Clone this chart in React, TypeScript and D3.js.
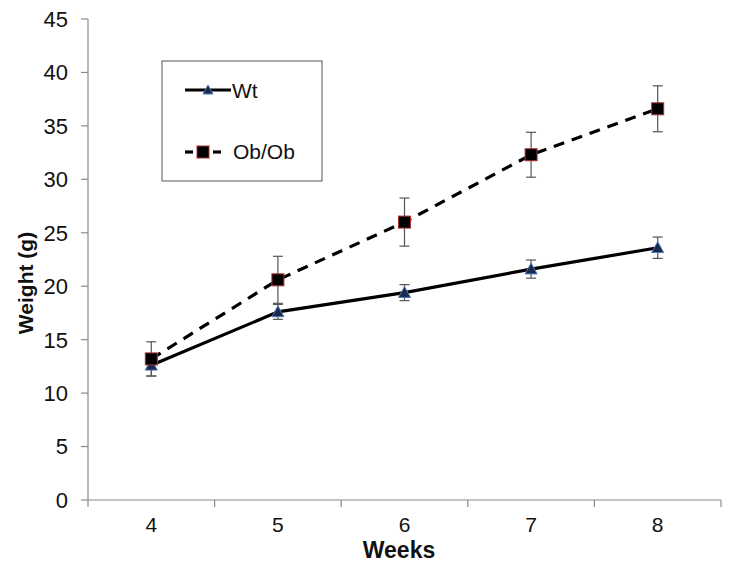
import React from "react";
import * as d3 from "d3";

const weeks = ["4", "5", "6", "7", "8"];
const wtMean = [12.6, 17.6, 19.4, 21.6, 23.6];
const wtErr = [1.0, 0.7, 0.75, 0.85, 1.0];
const obMean = [13.2, 20.6, 26.0, 32.3, 36.6];
const obErr = [1.6, 2.2, 2.25, 2.1, 2.15];
const yTicks = [0, 5, 10, 15, 20, 25, 30, 35, 40, 45];

export default function App() {
  const W = 732, H = 570;
  const left = 88, right = 721, top = 19, bottom = 500;
  const x = d3.scaleBand<string>().domain(weeks).range([left, right]);
  const y = d3.scaleLinear().domain([0, 45]).range([bottom, top]);
  const cx = (w: string) => (x(w) as number) + x.bandwidth() / 2;
  const line = d3.line<number>().x((_, i) => cx(weeks[i])).y((v) => y(v));
  const font = "'Liberation Sans', Arial, sans-serif";
  const axisColor = "#8c8c8c";
  const tri = (px: number, py: number, s = 6) =>
    `M${px},${py - s} L${px + s},${py + s * 0.8} L${px - s},${py + s * 0.8} Z`;

  return (
    <svg width={W} height={H} style={{ position: "absolute", left: 0, top: 0 }} fontFamily={font}>
      <rect width={W} height={H} fill="#fff" />
      {/* axes */}
      <line x1={left} x2={left} y1={top} y2={bottom} stroke={axisColor} strokeWidth={1.2} />
      <line x1={left} x2={right} y1={bottom} y2={bottom} stroke={axisColor} strokeWidth={1.2} />
      {yTicks.map((t) => (
        <g key={t}>
          <line x1={left - 7} x2={left} y1={y(t)} y2={y(t)} stroke={axisColor} strokeWidth={1.2} />
          <text x={68} y={y(t)} dy="0.36em" textAnchor="end" fontSize={22} fill="#111">{t}</text>
        </g>
      ))}
      {[...weeks.map((w) => x(w) as number), right].map((p, i) => (
        <line key={i} x1={p} x2={p} y1={bottom} y2={bottom + 7} stroke={axisColor} strokeWidth={1.2} />
      ))}
      {weeks.map((w) => (
        <text key={w} x={cx(w)} y={532} textAnchor="middle" fontSize={21} fill="#111">{w}</text>
      ))}
      <text x={399} y={558} textAnchor="middle" fontSize={23} fontWeight="bold" fill="#111">Weeks</text>
      <text transform={`translate(33,${283}) rotate(-90)`} textAnchor="middle" fontSize={21} fontWeight="bold" fill="#111">Weight (g)</text>

      {/* error bars */}
      {[{ m: obMean, e: obErr }, { m: wtMean, e: wtErr }].map((s, si) =>
        s.m.map((v, i) => {
          const px = cx(weeks[i]);
          return (
            <g key={`${si}-${i}`} stroke="#555" strokeWidth={1.2}>
              <line x1={px} x2={px} y1={y(v + s.e[i])} y2={y(v - s.e[i])} />
              <line x1={px - 5} x2={px + 5} y1={y(v + s.e[i])} y2={y(v + s.e[i])} />
              <line x1={px - 5} x2={px + 5} y1={y(v - s.e[i])} y2={y(v - s.e[i])} />
            </g>
          );
        })
      )}

      {/* lines */}
      <path d={line(obMean) || ""} fill="none" stroke="#000" strokeWidth={3.2} strokeDasharray="11,8" />
      <path d={line(wtMean) || ""} fill="none" stroke="#000" strokeWidth={3.2} />

      {/* markers */}
      {wtMean.map((v, i) => (
        <path key={`w${i}`} d={tri(cx(weeks[i]), y(v))} fill="#1b2a4a" stroke="#4a78b8" strokeWidth={1} />
      ))}
      {obMean.map((v, i) => (
        <rect key={`o${i}`} x={cx(weeks[i]) - 6} y={y(v) - 6} width={12} height={12} fill="#000" stroke="#a83232" strokeWidth={1} />
      ))}

      {/* legend */}
      <rect x={162} y={61} width={160} height={120} fill="#fff" stroke="#555" strokeWidth={1} />
      <line x1={185} x2={231} y1={90} y2={90} stroke="#000" strokeWidth={3.2} />
      <path d={tri(208, 90, 5)} fill="#1b2a4a" stroke="#4a78b8" strokeWidth={1} />
      <text x={232} y={90} dy="0.36em" fontSize={21} fill="#111">Wt</text>
      <line x1={185} x2={193} y1={152} y2={152} stroke="#000" strokeWidth={3.2} />
      <line x1={213} x2={221} y1={152} y2={152} stroke="#000" strokeWidth={3.2} />
      <rect x={197} y={146} width={12} height={12} fill="#000" stroke="#a83232" strokeWidth={1} />
      <text x={233} y={151} dy="0.36em" fontSize={21} fill="#111">Ob/Ob</text>
    </svg>
  );
}
